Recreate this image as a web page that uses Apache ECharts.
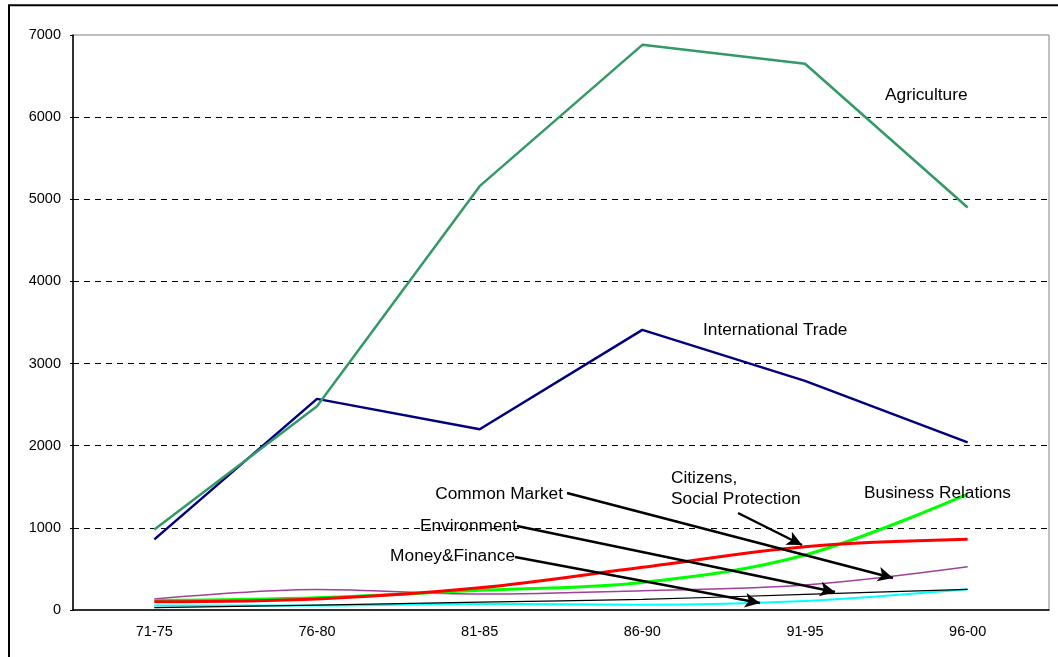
<!DOCTYPE html>
<html>
<head>
<meta charset="utf-8">
<script src="https://cdn.jsdelivr.net/npm/echarts@6/dist/echarts.min.js"></script>
<style>
  html, body { margin: 0; padding: 0; background: #fff; }
  #chart { width: 1058px; height: 657px; }
</style>
</head>
<body>
<div id="chart"></div>
<script>
// 数据
var periods = ['71-75', '76-80', '81-85', '86-90', '91-95', '96-00'];
var agriculture = [980, 2480, 5160, 6880, 6650, 4900];
var internationalTrade = [860, 2570, 2200, 3410, 2790, 2040];
var businessRelations = [115, 150, 240, 335, 670, 1410];
var citizensSocial = [100, 135, 270, 520, 770, 860];
var commonMarket = [135, 250, 195, 235, 305, 527];
var environment = [30, 60, 95, 130, 190, 250];
var moneyFinance = [55, 55, 75, 65, 110, 252];

var myChart = echarts.init(document.getElementById('chart'));
var font = 'Liberation Sans, Arial, sans-serif';

function label(text, x, y, align) {
  return {
    type: 'text',
    left: align === 'right' ? null : x,
    right: align === 'right' ? 1058 - x : null,
    top: y - 8,
    style: { text: text, font: '17.3px ' + font, fill: '#000' },
    z: 100
  };
}

// 注释箭头（像素位置）
function arrow(x1, y1, x2, y2) {
  return [{ x: x1, y: y1 }, { x: x2, y: y2 }];
}

function smoothLine(name, data, color, width) {
  return {
    name: name,
    type: 'line',
    data: data,
    smooth: 0.35,
    symbol: 'none',
    lineStyle: { color: color, width: width }
  };
}

var option = {
  animation: false,
  grid: {
    left: 73, right: 9, top: 35, bottom: 47,
    show: true, borderColor: '#808080', borderWidth: 1
  },
  xAxis: {
    type: 'category',
    data: periods,
    boundaryGap: true,
    axisLine: { lineStyle: { color: '#000', width: 1.5 } },
    axisTick: { inside: true, length: 5, lineStyle: { color: '#000' } },
    axisLabel: { color: '#000', fontFamily: font, fontSize: 14.5, margin: 14 }
  },
  yAxis: {
    type: 'value',
    min: 0, max: 7000, interval: 1000,
    axisLine: { show: true, lineStyle: { color: '#000', width: 1.5 } },
    axisTick: { show: true, length: 3, lineStyle: { color: '#000' } },
    axisLabel: {
      color: '#000', fontFamily: font, fontSize: 14.5, margin: 12,
      formatter: function(v) { return String(v); }
    },
    splitLine: {
      showMinLine: false,
      showMaxLine: false,
      lineStyle: { color: '#000', type: [6, 5], width: 1 }
    }
  },
  graphic: [
    {
      type: 'rect',
      shape: { x: 9, y: 5.3, width: 1200, height: 800 },
      style: { fill: 'none', stroke: '#000', lineWidth: 2 },
      silent: true
    },
    label('Agriculture', 885, 95),
    label('International Trade', 703, 330),
    label('Common Market', 563, 494, 'right'),
    label('Environment', 517, 526, 'right'),
    label('Money&Finance', 515, 556, 'right'),
    label('Citizens,', 671, 478),
    label('Social Protection', 671, 499),
    label('Business Relations', 864, 493)
  ],
  series: [
    smoothLine('Common Market', commonMarket, '#A0409A', 1.5),
    smoothLine('Money&Finance', moneyFinance, '#00FFFF', 2),
    {
      name: 'Environment',
      type: 'line',
      data: environment,
      smooth: 0.35,
      symbol: 'none',
      lineStyle: { color: '#000', width: 1.2 },
      markLine: {
        silent: true,
        symbol: ['none', 'arrow'],
        symbolSize: [11, 15],
        label: { show: false },
        lineStyle: { color: '#000', width: 2.5, type: 'solid' },
        data: [
          arrow(567, 493, 893, 578),
          arrow(517, 526, 835, 592),
          arrow(515, 557, 760, 603),
          arrow(738, 513, 802, 545)
        ]
      }
    },
    smoothLine('Business Relations', businessRelations, '#00FF00', 3),
    smoothLine('Citizens, Social Protection', citizensSocial, '#FF0000', 3),
    {
      name: 'International Trade',
      type: 'line',
      data: internationalTrade,
      symbol: 'none',
      lineStyle: { color: '#000080', width: 2.5 }
    },
    {
      name: 'Agriculture',
      type: 'line',
      data: agriculture,
      symbol: 'none',
      lineStyle: { color: '#339966', width: 2.5 }
    }
  ]
};

myChart.setOption(option);
</script>
</body>
</html>
